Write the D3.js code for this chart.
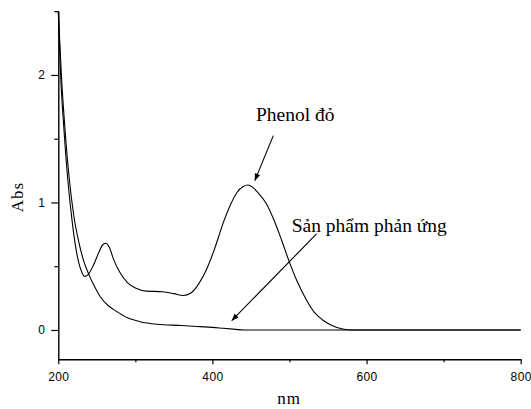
<!DOCTYPE html>
<html><head><meta charset="utf-8">
<script src="https://cdn.jsdelivr.net/npm/d3@7"></script>
<style>body{margin:0;background:#fff}svg{display:block}</style>
</head><body>
<svg id="c" width="531" height="409"></svg>
<script>
// Phenol đỏ (phenol red) spectrum: wavelength (nm) and absorbance
const phenolNm  = [200,203,207,212,218,224,230,234,238,245,252,258,262,266,272,280,290,300,315,335,350,362,372,382,392,403,414,424,432,440,446,452,460,470,480,490,500,510,522,532,543,555,569,580,600,700,800];
const phenolAbs = [2.5,2.0,1.6,1.2,0.85,0.6,0.46,0.42,0.43,0.5,0.6,0.67,0.68,0.65,0.55,0.45,0.37,0.33,0.305,0.30,0.285,0.27,0.29,0.36,0.47,0.64,0.84,0.99,1.08,1.125,1.137,1.12,1.07,0.99,0.86,0.70,0.53,0.38,0.235,0.14,0.078,0.035,0.008,0.0,0,0,0];
// Sản phẩm phản ứng (reaction product) spectrum
const productNm  = [200,204,209,214,220,227,232,240,247,254,265,276,290,306,328,360,384,400,414,430,440,500,600,800];
const productAbs = [2.5,2.0,1.55,1.2,0.9,0.68,0.56,0.43,0.34,0.265,0.19,0.144,0.095,0.065,0.045,0.035,0.026,0.02,0.013,0.005,0.0,0,0,0];

const xMajor = [200,400,600,800];
const xMinor = [300,500,700];
const yMajor = [0,1,2];
const yMinor = [0.5,1.5,2.5];

// annotations (data units)
const labels = [
  {text:"Phenol đỏ", x:456.5, y:1.639, ax0:479, ay0:1.524, ax1:455, ay1:1.171},
  {text:"Sản phẩm phản ứng", x:502.8, y:0.771, ax0:535, ay0:0.753, ax1:425, ay1:0.073}
];

const serif = "'Liberation Serif','Times New Roman',Times,serif";
const svg = d3.select("#c");
const x = d3.scaleLinear().domain([200,800]).range([58.3,520.7]);
const y = d3.scaleLinear().domain([-0.23,2.5]).range([359.3,11.2]);

svg.append("defs").append("marker")
  .attr("id","ah").attr("viewBox","0 0 10 10").attr("refX",10).attr("refY",5)
  .attr("markerWidth",9).attr("markerHeight",7).attr("markerUnits","userSpaceOnUse")
  .attr("orient","auto")
  .append("path").attr("d","M0,1 L10,5 L0,9 Z").attr("fill","#000");

const line = d3.line().x(d=>x(d[0])).y(d=>y(d[1])).curve(d3.curveMonotoneX);
const g = svg.append("g");
g.append("path").datum(phenolNm.map((n,i)=>[n,phenolAbs[i]]))
  .attr("d",line).attr("fill","none").attr("stroke","#000").attr("stroke-width",1.1);
g.append("path").datum(productNm.map((n,i)=>[n,productAbs[i]]))
  .attr("d",line).attr("fill","none").attr("stroke","#000").attr("stroke-width",1.1);

// axes
svg.append("g").attr("transform",`translate(0,${y(-0.23)})`)
  .call(d3.axisBottom(x).tickValues(xMajor).tickSize(5).tickSizeOuter(0).tickPadding(8).tickFormat(d3.format("d")));
svg.append("g").attr("transform",`translate(0,${y(-0.23)})`)
  .call(d3.axisBottom(x).tickValues(xMinor).tickSize(3).tickSizeOuter(0).tickFormat(""))
  .select(".domain").remove();
svg.append("g").attr("transform",`translate(${x(200)},0)`)
  .call(d3.axisLeft(y).tickValues(yMajor).tickSize(7).tickSizeOuter(0).tickPadding(6).tickFormat(d3.format("d")));
svg.append("g").attr("transform",`translate(${x(200)},0)`)
  .call(d3.axisLeft(y).tickValues(yMinor).tickSize(4).tickSizeOuter(0).tickFormat(""))
  .select(".domain").remove();
svg.selectAll(".domain").attr("stroke-width",1.4);
svg.selectAll(".tick line").attr("stroke-width",1.2);
svg.selectAll(".tick text").attr("font-family","'Liberation Sans', Arial, sans-serif")
  .attr("font-size",12).attr("fill","#000").style("letter-spacing","0.4px");

// axis titles
svg.append("text").attr("x",289).attr("y",404).attr("text-anchor","middle")
  .attr("font-family",serif).attr("font-size",17)
  .style("letter-spacing","1px").text("nm");
svg.append("text").attr("transform","translate(23,197) rotate(-90)").attr("text-anchor","middle")
  .attr("font-family",serif).attr("font-size",17)
  .style("letter-spacing","1px").text("Abs");

// annotations
labels.forEach(l=>{
  svg.append("text").attr("x",x(l.x)).attr("y",y(l.y))
    .attr("font-family",serif).attr("font-size",19.5)
    .attr("fill","#000").text(l.text);
  svg.append("line").attr("x1",x(l.ax0)).attr("y1",y(l.ay0)).attr("x2",x(l.ax1)).attr("y2",y(l.ay1))
    .attr("stroke","#000").attr("stroke-width",1.1).attr("marker-end","url(#ah)");
});
</script>
</body></html>
